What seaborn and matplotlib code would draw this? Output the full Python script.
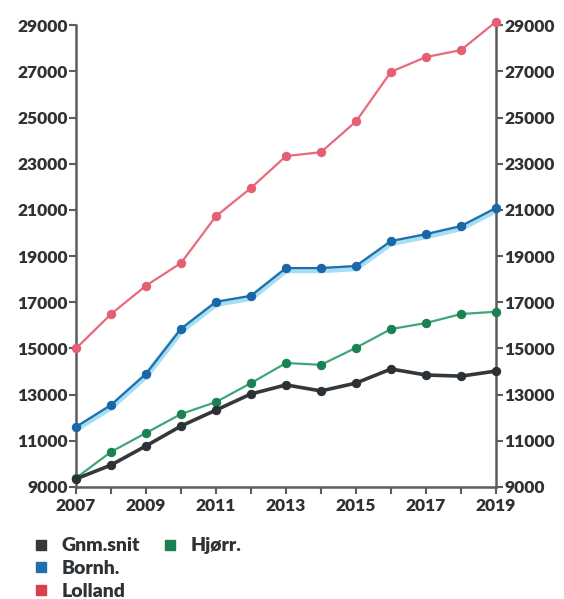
import pandas as pd
import seaborn as sns
import matplotlib.pyplot as plt
from matplotlib.lines import Line2D

# ---------------------------------------
# 1. Data
# ---------------------------------------
years = list(range(2007, 2020))
gnm_snit = [9350, 9950, 10780, 11640, 12330, 13030, 13420, 13160, 13500, 14110, 13850, 13800, 14020]
hjorr = [9390, 10520, 11340, 12160, 12680, 13500, 14370, 14290, 15030, 15840, 16100, 16490, 16590]
bornh = [11600, 12550, 13900, 15850, 17020, 17280, 18480, 18480, 18570, 19650, 19950, 20300, 21080]
lolland = [15000, 16490, 17720, 18700, 20730, 21950, 23330, 23500, 24830, 26980, 27620, 27920, 29150]

series = {"Lolland": lolland, "Bornh.": bornh, "Hjørr.": hjorr, "Gnm.snit": gnm_snit}
df = pd.DataFrame(
    [(y, name, v) for name, vals in series.items() for y, v in zip(years, vals)],
    columns=["Year", "Area", "Value"],
)

line_colors = {"Gnm.snit": "#33383d", "Hjørr.": "#3fa57a", "Bornh.": "#1f6fae", "Lolland": "#e86a7c"}
marker_colors = {"Gnm.snit": "#2c3136", "Hjørr.": "#1c8152", "Bornh.": "#1a66a6", "Lolland": "#e45f72"}

# ---------------------------------------
# 2. Theme
# ---------------------------------------
sns.set_theme(style="white")
plt.rcParams["font.family"] = ["Lato", "DejaVu Sans"]
plt.rcParams["font.weight"] = "bold"

fig = plt.figure(figsize=(5.64, 5.99), dpi=100)
ax = fig.add_axes([0.1348, 0.187, 0.7446, 0.771])

# light halo under the Bornholm line
sub = df[df["Area"] == "Bornh."]
ax.plot(sub["Year"], sub["Value"] - 90, color="#a8def2", lw=4.5, zorder=1, clip_on=False)

for name in ["Lolland", "Bornh.", "Hjørr.", "Gnm.snit"]:
    sns.lineplot(
        data=df[df["Area"] == name],
        x="Year",
        y="Value",
        color=line_colors[name],
        lw=2.6 if name == "Gnm.snit" else 1.6,
        marker="o",
        markersize=6,
        markerfacecolor=marker_colors[name],
        markeredgecolor=marker_colors[name],
        ax=ax,
        clip_on=False,
        zorder=3,
    )

# ---------------------------------------
# 3. Axes styling
# ---------------------------------------
ax.set_xlim(2007, 2019)
ax.set_ylim(9000, 29000)
ax.set_yticks(range(9000, 29001, 2000))
ax.set_xticks(years)
ax.set_xticklabels([str(y) if (y - 2007) % 2 == 0 else "" for y in years])
ax.set_xlabel("")
ax.set_ylabel("")

for side in ["left", "right", "bottom"]:
    ax.spines[side].set_visible(True)
    ax.spines[side].set_color("#5a5d60")
    ax.spines[side].set_linewidth(1.8)
ax.spines["top"].set_visible(False)

ax.tick_params(axis="y", which="both", left=True, right=True, labelleft=True, labelright=True,
               direction="out", length=5, width=1.5, color="#5a5d60", pad=1,
               labelsize=12.5, labelcolor="#2f3235")
ax.tick_params(axis="x", bottom=True, direction="out", length=5, width=1.5, color="#5a5d60",
               pad=3, labelsize=12.5, labelcolor="#2f3235")
for lab in ax.yaxis.get_ticklabels(which="both") + ax.get_xticklabels():
    lab.set_fontweight("heavy")

# ---------------------------------------
# 4. Legend (3 + 1 layout)
# ---------------------------------------
def sq(c):
    return Line2D([], [], marker="s", ls="", markersize=7, color=c)

blank = Line2D([], [], ls="", marker="")
handles = [sq(line_colors["Gnm.snit"]), sq(line_colors["Bornh."]), sq("#d9404f"),
           sq(marker_colors["Hjørr."]), blank, blank]
labels = ["Gnm.snit", "Bornh.", "Lolland", "Hjørr.", "", ""]
leg = fig.legend(handles, labels, ncol=2, loc="upper left", bbox_to_anchor=(0.025, 0.132),
                 frameon=False, handlelength=1.0, handletextpad=0.55, columnspacing=1.05,
                 labelspacing=0.3, prop={"size": 14, "weight": "heavy"})
for t in leg.get_texts():
    t.set_color("#2f3235")

fig.savefig("out.png", dpi=100)
